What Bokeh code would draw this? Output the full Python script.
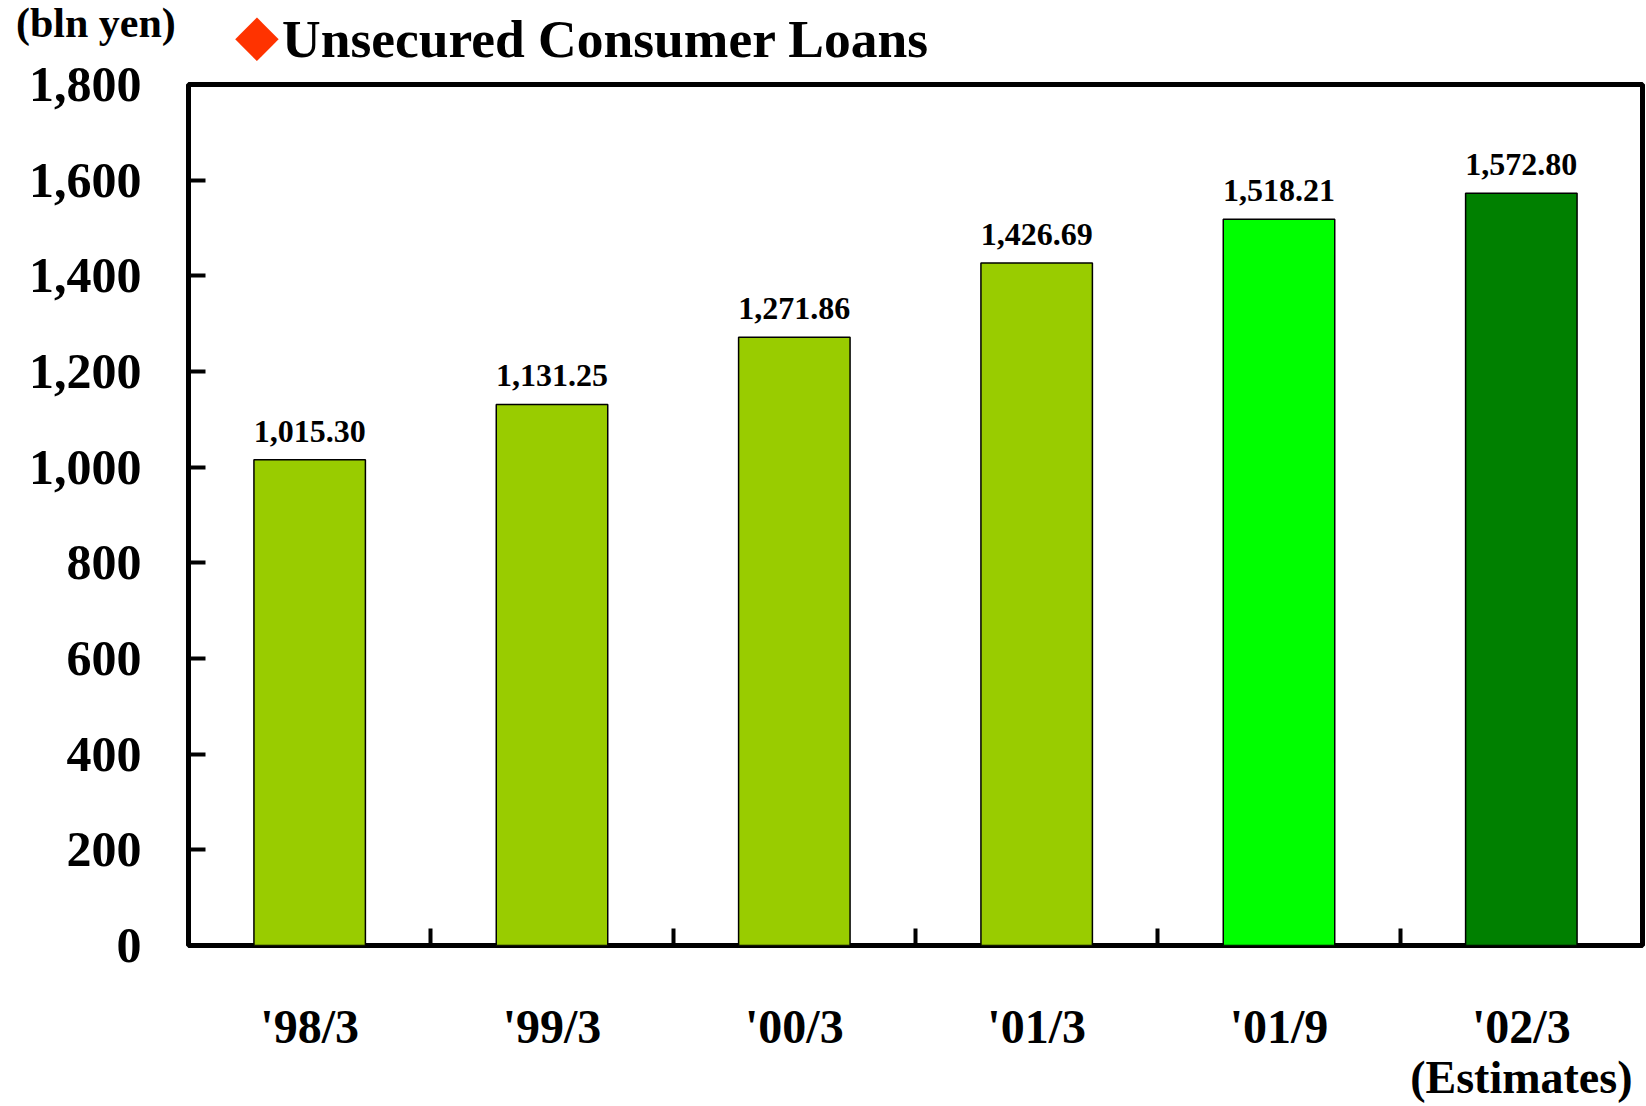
from bokeh.plotting import figure
from bokeh.layouts import column
from bokeh.models import (ColumnDataSource, Range1d, FixedTicker, Div,
                          LinearAxis, NumeralTickFormatter, LabelSet)
from bokeh.embed import file_html
from bokeh.resources import INLINE

# ---- data ----
categories = ["'98/3", "'99/3", "'00/3", "'01/3", "'01/9", "'02/3"]
loans = [1015.30, 1131.25, 1271.86, 1426.69, 1518.21, 1572.80]
bar_colors = ["#99CC00", "#99CC00", "#99CC00", "#99CC00", "#00FF00", "#008000"]
y_ticks = [0, 200, 400, 600, 800, 1000, 1200, 1400, 1600, 1800]
note_text = "(Estimates)"          # second line under the last category
title_text = "Unsecured Consumer Loans"
unit_text = "(bln yen)"
marker_text = "\u25c6"

FONT = "Liberation Serif"
W, H = 1646, 1106
HEAD_H = 84

n = len(categories)
centers = [i + 0.5 for i in range(n)]          # category slots on a 0..n axis
boundaries = [i for i in range(1, n)]

# ---------------- main chart ----------------
source = ColumnDataSource(dict(
    x=centers,
    val=loans,
    color=bar_colors,
    label=["{:,.2f}".format(v) for v in loans],
))

p = figure(width=W, height=H,
           x_range=Range1d(0, n),
           y_range=Range1d(0, 1800),
           output_backend="svg", toolbar_location=None,
           x_axis_location=None, y_axis_location="left",
           min_border_left=188, min_border_right=4,
           min_border_top=HEAD_H, min_border_bottom=161)

p.background_fill_color = "white"
p.border_fill_color = None
p.outline_line_color = "black"
p.outline_line_width = 5
p.xgrid.visible = False
p.ygrid.visible = False

# y axis
ya = p.yaxis[0]
ya.ticker = FixedTicker(ticks=y_ticks)
ya.formatter = NumeralTickFormatter(format="0,0")
ya.axis_line_color = None
ya.major_tick_in = 17
ya.major_tick_out = 0
ya.major_tick_line_width = 4
ya.major_tick_line_color = "black"
ya.minor_tick_line_color = None
ya.major_label_text_font = FONT
ya.major_label_text_font_style = "bold"
ya.major_label_text_font_size = "50px"
ya.major_label_text_color = "black"
ya.major_label_standoff = 47

# boundary ticks on x axis (no labels)
tick_axis = LinearAxis(ticker=FixedTicker(ticks=boundaries),
                       axis_line_color=None, major_tick_in=17, major_tick_out=0,
                       major_tick_line_width=4, major_tick_line_color="black",
                       minor_tick_line_color=None,
                       major_label_overrides={b: "" for b in boundaries},
                       major_label_text_font_size="1px",
                       major_label_standoff=0)
p.add_layout(tick_axis, "below")

# category labels at slot centres (no ticks)
cat_axis = LinearAxis(ticker=FixedTicker(ticks=centers),
                      major_label_overrides={c: t for c, t in zip(centers, categories)},
                      axis_line_color=None, major_tick_line_color=None,
                      minor_tick_line_color=None,
                      major_label_text_font=FONT,
                      major_label_text_font_style="bold",
                      major_label_text_font_size="48px",
                      major_label_text_color="black",
                      major_label_standoff=48)
p.add_layout(cat_axis, "below")

# "(Estimates)" under the last category
est_axis = LinearAxis(ticker=FixedTicker(ticks=centers[-1:]),
                      major_label_overrides={centers[-1]: note_text},
                      axis_line_color=None, major_tick_line_color=None,
                      minor_tick_line_color=None,
                      major_label_text_font=FONT,
                      major_label_text_font_style="bold",
                      major_label_text_font_size="46px",
                      major_label_text_color="black",
                      major_label_standoff=-10)
p.add_layout(est_axis, "below")

p.vbar(x="x", top="val", width=0.46, source=source,
       fill_color="color", line_color="black", line_width=1.5)

labels = LabelSet(x="x", y="val", text="label", source=source,
                  text_align="center", text_baseline="alphabetic",
                  y_offset=18, text_font=FONT, text_font_style="bold",
                  text_font_size="32px", text_color="black")
p.add_layout(labels)

# ---------------- header line (drawn over the top border) ----------------
span = ("position:absolute;white-space:nowrap;line-height:1;margin:0;padding:0;")
header_html = (
    f'<div style="position:relative;width:{W}px;height:{HEAD_H}px;'
    f"font-family:'{FONT}';font-weight:bold;color:black;\">"
    f'<span style="{span}left:16px;top:2px;font-size:42px;">{unit_text}</span>'
    f'<span style="{span}left:235px;top:6px;font-size:57px;color:#FF3300;'
    f"font-family:'DejaVu Sans';font-weight:normal;\">{marker_text}</span>"
    f'<span style="{span}left:282px;top:13px;font-size:53.5px;">{title_text}</span>'
    '</div>'
)
header = Div(text=header_html, width=W, height=HEAD_H, margin=(0, 0, -HEAD_H, 0))

layout = column(header, p, spacing=0)
open("out.html", "w").write(file_html(layout, INLINE))
